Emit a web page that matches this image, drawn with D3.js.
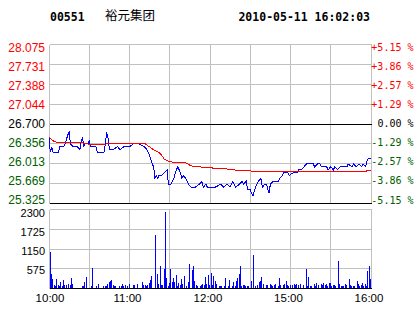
<!DOCTYPE html>
<html>
<head>
<meta charset="utf-8">
<script src="https://cdn.jsdelivr.net/npm/d3@7"></script>
<style>
body { margin: 0; background: #fff; }
svg { display: block; }
text { font-family: "Liberation Sans", Arial, sans-serif; }
</style>
</head>
<body>
<div id="chart"></div>
<script>
// header
const stockCode = '00551';
const stockName = '裕元集团';
const stamp = '2010-05-11 16:02:03';

// axis ticks
const prevClose = 26.700;
const priceTicks = [28.075, 27.731, 27.388, 27.044, 26.700, 26.356, 26.013, 25.669, 25.325];
const pctTicks = ['+5.15 %', '+3.86 %', '+2.57 %', '+1.29 %', '0.00 %', '-1.29 %', '-2.57 %', '-3.86 %', '-5.15 %'];
const volTicks = [2300, 1725, 1150, 575];
const timeLabels = ['10:00', '11:00', '12:00', '15:00', '16:00'];
const timeLabelMin = [0, 60, 120, 180, 240];   // trading minutes from the open

// price (blue), minutes from open
const priceMin = [0,1,2,3,4,7,8,11,12,14,15,16,18,21,23,24,25,26,27,29,30,31,35,36,41,42,43,44,45,48,51,53,56,60,63,67,71,73,75,77,78,79,80,81,82,84,86,88,89,91,93,95,96,98,99,100,102,104,106,109,112,114,115,117,118,124,128,130,133,135,137,139,142,144,145,147,148,150,152,154,156,158,159,161,162,164,165,167,171,172,174,175,178,179,182,185,186,188,190,192,194,197,198,200,202,203,205,207,208,210,212,213,215,217,222,223,226,227,229,231,233,234,236,237,238,240];
const priceVal = [26.45,26.20,26.30,26.20,26.20,26.20,26.30,26.30,26.35,26.50,26.55,26.35,26.30,26.30,26.25,26.40,26.45,26.30,26.35,26.35,26.40,26.30,26.30,26.20,26.20,26.35,26.55,26.45,26.25,26.25,26.30,26.25,26.30,26.30,26.35,26.35,26.30,26.25,26.15,26.00,25.95,25.75,25.80,25.75,25.80,25.80,25.85,25.90,25.65,25.65,25.75,25.90,25.95,25.85,25.75,25.80,25.75,25.65,25.60,25.60,25.65,25.70,25.60,25.65,25.60,25.60,25.65,25.60,25.65,25.60,25.70,25.60,25.65,25.70,25.65,25.70,25.55,25.55,25.45,25.60,25.70,25.75,25.60,25.65,25.65,25.50,25.65,25.70,25.70,25.75,25.80,25.85,25.85,25.80,25.85,25.85,25.90,25.90,25.95,26.00,26.00,26.00,25.95,26.00,26.00,25.95,25.95,25.95,25.90,25.95,25.90,25.95,25.90,25.95,25.95,26.00,25.95,26.00,25.95,26.00,25.95,26.00,25.95,26.05,26.10,26.10];

// average price (red)
const avgMin = [0,3,6,24,27,31,42,43,71,74,76,79,82,84,86,89,92,102,104,107,117,122,123,137,139,149,162,236,237,240];
const avgVal = [26.46,26.40,26.37,26.37,26.35,26.34,26.34,26.36,26.36,26.31,26.28,26.23,26.20,26.15,26.08,26.05,26.03,26.02,25.99,25.96,25.94,25.93,25.92,25.91,25.89,25.88,25.865,25.865,25.89,25.89];

// volume bars
const volMin = [0,1,2,3,4,5,6,7,8,9,10,11,12,14,15,16,17,24,25,26,27,31,32,35,36,40,41,42,43,44,45,46,47,48,49,52,53,54,55,56,58,59,62,63,65,69,70,71,72,73,74,75,76,79,80,81,82,83,84,85,86,87,88,89,90,91,92,93,94,95,96,97,98,99,100,102,103,104,106,107,108,109,110,112,113,114,115,116,117,118,119,120,121,
  122,123,124,126,127,128,130,131,133,134,136,137,138,139,140,141,142,143,144,145,146,147,148,150,152,153,155,156,157,158,159,161,162,164,165,166,167,168,170,171,172,174,175,176,177,178,179,181,182,183,184,185,187,189,191,192,193,194,195,197,198,199,200,202,203,204,205,206,207,208,209,210,211,212,213,215,216,217,218,219,220,221,223,224,225,226,227,229,230,231,232,233,234,235,236,237,238,239,240];
const volVal = [1040,420,270,100,70,270,100,70,180,70,240,100,100,130,100,300,130,70,70,180,330,70,590,70,130,70,70,70,130,180,200,220,100,70,70,70,70,130,70,100,70,130,100,100,130,180,100,100,70,100,160,230,360,1550,420,130,650,100,100,560,2200,300,70,160,560,180,300,180,390,70,160,100,270,130,360,70,180,710,530,650,190,100,70,70,100,130,100,330,130,390,100,450,100,
  360,210,130,70,70,70,70,300,70,240,70,180,70,210,300,420,650,70,100,100,70,70,70,210,970,70,100,180,210,330,130,100,100,130,100,70,100,130,70,300,100,100,130,210,100,70,100,100,130,100,130,100,130,100,560,70,330,70,70,130,70,160,100,130,100,160,100,130,70,160,160,70,100,100,70,800,130,70,70,70,130,100,270,100,70,70,70,210,130,70,100,160,70,130,70,500,630,250,180];

const W = 414, H = 314;
const GRID = '#c0c0c0', RED = '#ff0000', GREEN = '#006000', BLUE = '#0000ff';

const svg = d3.select('#chart').append('svg')
    .attr('width', W).attr('height', H)
    .attr('viewBox', `0 0 ${W} ${H}`);

const x = d3.scaleLinear().domain([0, 240]).range([49, 371]);
const y = d3.scaleLinear().domain([25.325, 28.075]).range([203, 44]);
const yv = d3.scaleLinear().domain([0, 2300]).range([288, 209]);

const px = (m) => Math.floor(x(m)) + 0.5;
const row = (v) => Math.round(v) + 0.5;
const tone = (v) => v > prevClose + 1e-6 ? RED : (v < prevClose - 1e-6 ? GREEN : '#000');

// header
svg.append('text').attr('x', 50).attr('y', 20.5)
    .style('font-family', '"DejaVu Sans Mono", monospace').style('font-weight', 'bold').style('font-size', '11.5px')
    .text(stockCode);
svg.append('text').attr('x', 105).attr('y', 20)
    .style('font-family', '"Noto Sans CJK SC", sans-serif').style('font-size', '12.5px')
    .text(stockName);
svg.append('text').attr('x', 370).attr('y', 20.5).attr('text-anchor', 'end')
    .style('font-family', '"DejaVu Sans Mono", monospace').style('font-weight', 'bold').style('font-size', '11.5px')
    .text(stamp);

const grid = svg.append('g').attr('shape-rendering', 'crispEdges');

// vertical grid, both panels
const halfHours = d3.range(0, 241, 30);
grid.selectAll('.vp').data(halfHours).enter().append('line')
    .attr('x1', px).attr('x2', px).attr('y1', row(y(28.075))).attr('y2', row(y(25.325)))
    .attr('stroke', GRID);
grid.selectAll('.vv').data(halfHours).enter().append('line')
    .attr('x1', px).attr('x2', px).attr('y1', row(yv(2300))).attr('y2', row(yv(0)))
    .attr('stroke', GRID);

// horizontal grid, price panel
grid.selectAll('.hp').data(priceTicks).enter().append('line')
    .attr('x1', px(0)).attr('x2', px(240))
    .attr('y1', d => row(y(d))).attr('y2', d => row(y(d)))
    .attr('stroke', (d, i) => (d === prevClose || i === priceTicks.length - 1) ? '#000' : GRID);

// horizontal grid, volume panel
grid.selectAll('.hv').data(volTicks.concat([0])).enter().append('line')
    .attr('x1', px(0)).attr('x2', px(240))
    .attr('y1', d => row(yv(d))).attr('y2', d => row(yv(d)))
    .attr('stroke', d => d === 0 ? '#000' : GRID);

// volume bars
svg.append('g').attr('shape-rendering', 'crispEdges')
    .selectAll('rect').data(volMin.map((m, i) => [m, volVal[i]])).enter().append('rect')
    .attr('x', d => Math.min(Math.floor(x(d[0])) + 1, 370))
    .attr('width', 1)
    .attr('y', d => Math.round(yv(d[1])))
    .attr('height', d => 288 - Math.round(yv(d[1])))
    .attr('fill', BLUE);

// price and average lines
const line = d3.line().x(d => x(d[0])).y(d => y(d[1]));
svg.append('path').datum(priceMin.map((m, i) => [m, priceVal[i]]))
    .attr('d', line).attr('fill', 'none').attr('stroke', BLUE).attr('stroke-width', 1)
    .attr('shape-rendering', 'crispEdges');
svg.append('path').datum(avgMin.map((m, i) => [m, avgVal[i]]))
    .attr('d', line).attr('fill', 'none').attr('stroke', RED).attr('stroke-width', 1)
    .attr('shape-rendering', 'crispEdges');

// left price labels
const labelY = d3.scaleLinear().domain([0, priceTicks.length - 1]).range([47.7, 200]);
svg.selectAll('.pl').data(priceTicks).enter().append('text')
    .attr('x', 45).attr('y', (d, i) => labelY(i)).attr('dy', '0.35em')
    .attr('text-anchor', 'end').style('font-size', '12px')
    .attr('fill', tone)
    .text(d => d.toFixed(3));

// right percent labels
svg.selectAll('.rl').data(pctTicks).enter().append('text')
    .attr('x', 413.5).attr('y', (d, i) => labelY(i)).attr('dy', '0.35em')
    .attr('text-anchor', 'end')
    .style('font-family', '"DejaVu Sans Mono", monospace').style('font-size', '10px')
    .attr('fill', (d, i) => tone(priceTicks[i]))
    .text(d => d);

// volume labels
const volLabelY = d3.scaleLinear().domain([0, 3]).range([213.3, 270]);
svg.selectAll('.vl').data(volTicks).enter().append('text')
    .attr('x', 45).attr('y', (d, i) => volLabelY(i)).attr('dy', '0.35em')
    .attr('text-anchor', 'end').style('font-size', '11px')
    .attr('fill', '#000')
    .text(d => d);

// time labels
svg.selectAll('.tl').data(timeLabels).enter().append('text')
    .attr('x', (d, i) => i === 0 ? x(timeLabelMin[i]) + 1 : x(timeLabelMin[i]) - 2)
    .attr('y', 302)
    .attr('text-anchor', 'middle').style('font-size', '11.5px')
    .attr('fill', '#000')
    .text(d => d);
</script>
</body>
</html>
